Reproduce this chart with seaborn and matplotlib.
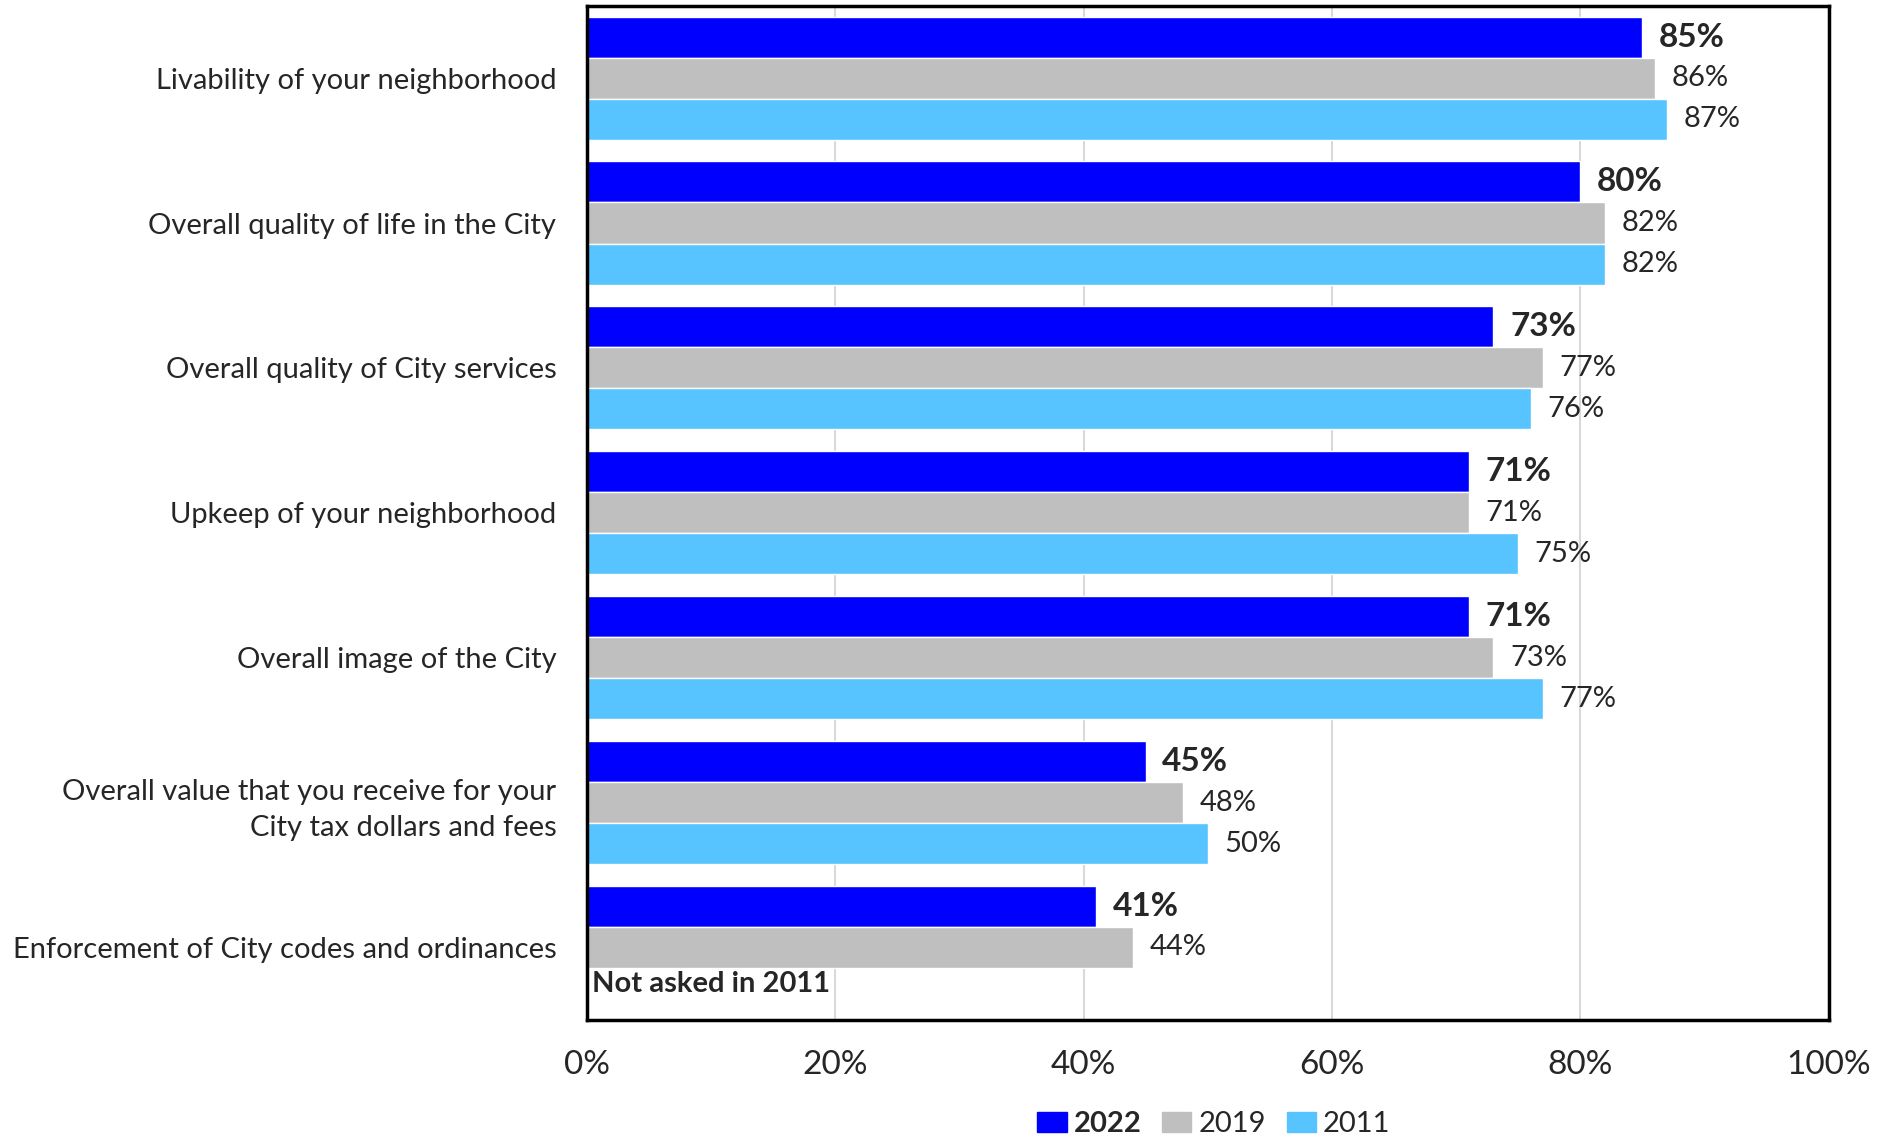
import matplotlib
matplotlib.use("Agg")
import matplotlib.pyplot as plt
import seaborn as sns
import pandas as pd
import numpy as np

# categories top to bottom
categories = [
    "Livability of your neighborhood",
    "Overall quality of life in the City",
    "Overall quality of City services",
    "Upkeep of your neighborhood",
    "Overall image of the City",
    "Overall value that you receive for your\nCity tax dollars and fees",
    "Enforcement of City codes and ordinances",
]
years = ["2022", "2019", "2011"]

vals_2022 = [85, 80, 73, 71, 71, 45, 41]
vals_2019 = [86, 82, 77, 71, 73, 48, 44]
vals_2011 = [87, 82, 76, 75, 77, 50, np.nan]

colors = {"2022": "#0000FF", "2019": "#BFBFBF", "2011": "#57C4FF"}

rows = []
for yr, vals in zip(years, [vals_2022, vals_2019, vals_2011]):
    for c, v in zip(categories, vals):
        rows.append({"Category": c, "Year": yr, "Value": v})
df = pd.DataFrame(rows).dropna()

sns.set_style("white")
plt.rcParams["font.family"] = ["Lato", "DejaVu Sans"]

fig = plt.figure(figsize=(18.93, 11.37), dpi=100)
ax = fig.add_axes([0.310, 0.103, 0.656, 0.892])

sns.barplot(data=df, y="Category", x="Value", hue="Year", order=categories,
            hue_order=years, palette=colors, orient="h", width=0.85,
            saturation=1, ax=ax, legend=False)

# value labels
for cont, yr in zip(ax.containers, years):
    labs = [f"{v:.0f}%" for v in cont.datavalues]
    if yr == "2022":
        txts = ax.bar_label(cont, labels=labs, padding=12, fontsize=24, fontweight="bold")
    else:
        txts = ax.bar_label(cont, labels=labs, padding=12, fontsize=21)

ax.text(0.4, 6.25, "Not asked in 2011", fontsize=21, fontweight="bold",
        va="center", ha="left")

ax.set_xlim(0, 100)
ax.set_ylim(6.5, -0.5)
ax.set_xticks([0, 20, 40, 60, 80, 100])
ax.set_xticklabels(["0%", "20%", "40%", "60%", "80%", "100%"])
ax.xaxis.grid(True, color="#D9D9D9", linewidth=1.5)
ax.set_axisbelow(True)
ax.tick_params(axis="x", labelsize=24, pad=22, length=0)
ax.tick_params(axis="y", labelsize=21, pad=22, length=0)
for lab in ax.get_yticklabels():
    lab.set_multialignment("right")
    lab.set_linespacing(1.45)
ax.set_xlabel("")
ax.set_ylabel("")
for s in ax.spines.values():
    s.set_visible(True)
    s.set_color("black")
    s.set_linewidth(2.5)

handles = [plt.Rectangle((0, 0), 1, 1, color=colors[y]) for y in years]
leg = ax.legend(handles, years, loc="center", bbox_to_anchor=(0.505, -0.103),
                ncol=3, frameon=False, fontsize=21, handlelength=1.0,
                handleheight=0.7, handletextpad=0.25, columnspacing=0.7)
leg.get_texts()[0].set_fontweight("bold")

fig.savefig("out.png", dpi=100)
